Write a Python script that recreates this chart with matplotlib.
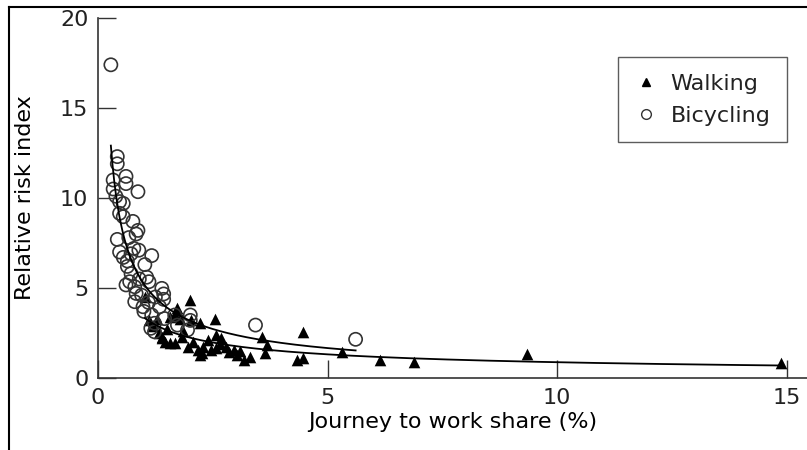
import numpy as np
import matplotlib
matplotlib.use("Agg")
import matplotlib.pyplot as plt
from matplotlib.lines import Line2D

# Bicycling: journey-to-work share (%) vs relative risk index
bike_x = [0.28, 0.42, 0.42, 0.33, 0.33, 0.61, 0.61, 0.87, 0.39, 0.47,
          0.55, 0.47, 0.55, 0.76, 0.87, 0.83, 0.67, 0.42, 0.78, 0.89,
          1.17, 0.47, 0.55, 0.64, 1.02, 0.64, 0.72, 1.06, 1.11, 0.69,
          0.80, 0.61, 1.39, 1.43, 1.43, 0.83, 0.80, 0.98, 1.00, 1.34,
          1.17, 2.01, 2.01, 1.15, 1.23, 1.23, 1.67, 1.45, 3.43, 5.61,
          1.95, 1.73, 0.95, 1.10, 0.72, 0.90, 1.25]
bike_y = [17.4, 12.3, 11.9, 11.0, 10.5, 11.2, 10.8, 10.35, 10.1, 9.8,
          9.7, 9.15, 8.96, 8.7, 8.2, 8.0, 7.8, 7.7, 7.2, 7.1,
          6.8, 7.0, 6.7, 6.5, 6.3, 6.2, 5.8, 5.6, 5.35, 5.35,
          5.07, 5.17, 4.98, 4.67, 4.37, 4.70, 4.24, 3.96, 3.70, 3.96,
          3.50, 3.50, 3.20, 2.76, 2.57, 3.04, 3.50, 3.30, 2.94, 2.15,
          2.67, 2.94, 4.60, 4.20, 6.90, 5.50, 4.50]

# Walking
walk_x = [2.00, 1.73, 1.67, 1.56, 1.28, 2.55, 2.03, 2.23, 1.32, 1.39,
          1.56, 1.84, 2.07, 2.29, 2.23, 2.46, 2.57, 2.68, 2.79, 2.96,
          3.02, 3.18, 3.30, 3.58, 3.69, 3.63, 4.34, 4.47, 4.47, 5.31,
          6.15, 6.88, 9.34, 14.88, 1.95, 2.18, 2.57, 2.85, 1.02, 1.46,
          1.67, 1.39, 1.72, 1.78, 2.26, 1.50, 1.85, 2.40, 1.10, 1.20,
          2.65, 3.10]
walk_y = [4.33, 3.87, 3.50, 3.40, 3.30, 3.30, 3.20, 3.04, 2.48, 2.20,
          1.93, 2.30, 2.00, 1.74, 1.28, 1.56, 2.40, 2.20, 1.74, 1.56,
          1.28, 1.00, 1.18, 2.30, 1.83, 1.37, 1.00, 1.09, 2.57, 1.46,
          1.00, 0.91, 1.33, 0.81, 1.74, 1.56, 1.65, 1.46, 4.50, 2.00,
          1.94, 2.30, 3.80, 3.30, 1.39, 2.70, 2.60, 2.10, 3.20, 2.90,
          1.90, 1.50]

x_ticks = [0, 5, 10, 15]
y_ticks = [0, 5, 10, 15, 20]

plt.rcParams.update({
    'font.family': 'DejaVu Sans',
    'font.size': 16,
    'text.color': '#222222',
    'axes.edgecolor': '#333333',
    'xtick.color': '#333333',
    'ytick.color': '#333333',
    'xtick.labelcolor': '#222222',
    'ytick.labelcolor': '#222222',
})


def power_fit(x, y):
    # least squares in log-log space, y = a * x^b
    x = np.asarray(x)
    y = np.asarray(y)
    b, log_a = np.polyfit(np.log(x), np.log(y), 1)
    xs = np.linspace(x.min(), x.max(), 300)
    return xs, np.exp(log_a) * xs ** b


fig = plt.figure(figsize=(8.07, 4.5), dpi=100)
ax = fig.add_axes([98 / 807, 1 - 378 / 450, 1 - 98 / 807, 360 / 450])

ax.scatter(walk_x, walk_y, marker='^', s=70, color='black', linewidths=0, zorder=3)
ax.scatter(bike_x, bike_y, marker='o', s=90, facecolors='none',
           edgecolors='#333333', linewidths=1.2, zorder=3)

bx, by = power_fit(bike_x, bike_y)
wx, wy = power_fit(walk_x, walk_y)
ax.plot(bx, by, color='black', lw=1.3, zorder=4)
ax.plot(wx, wy, color='black', lw=1.3, zorder=4)

ax.set_xlim(0, 15.44)
ax.set_ylim(0, 20)
ax.set_xticks(x_ticks)
ax.set_yticks(y_ticks)
ax.tick_params(direction='in', length=13, width=1.0, pad=7)
for side in ['top', 'right']:
    ax.spines[side].set_visible(False)
for side in ['left', 'bottom']:
    ax.spines[side].set_linewidth(1.2)

ax.set_xlabel('Journey to work share (%)', labelpad=3)
ax.set_ylabel('Relative risk index', labelpad=18)

handles = [
    Line2D([], [], marker='^', color='black', ls='none', markersize=6),
    Line2D([], [], marker='o', markerfacecolor='none', markeredgecolor='#333333',
           ls='none', markersize=7),
]
leg = ax.legend(handles, ['Walking', 'Bicycling'], loc='upper right',
                bbox_to_anchor=(0.972, 0.892), borderaxespad=0, frameon=True,
                fancybox=False, handlelength=1.0, handletextpad=0.6,
                borderpad=0.75, labelspacing=0.55, fontsize=16)
leg.get_frame().set_edgecolor('#333333')
leg.get_frame().set_linewidth(1.0)

# outer frame of the scanned figure (left and top edges visible)
fig.add_artist(Line2D([9 / 807, 9 / 807], [0, 1 - 7 / 450], transform=fig.transFigure,
                      color='black', lw=1.5))
fig.add_artist(Line2D([9 / 807, 1], [1 - 7 / 450, 1 - 7 / 450], transform=fig.transFigure,
                      color='black', lw=1.5))

fig.savefig('out.png', dpi=100)
